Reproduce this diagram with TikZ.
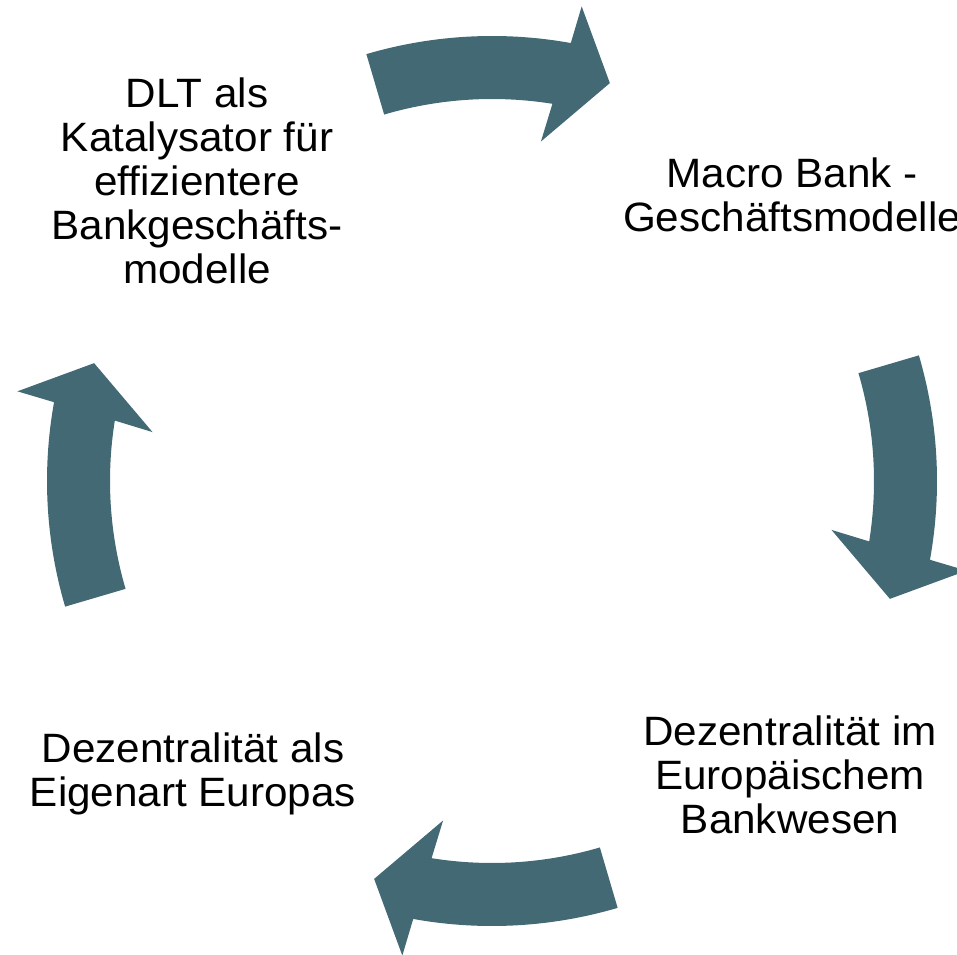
\documentclass[tikz,border=0pt]{standalone}
\usepackage{fontspec}
\setmainfont{Liberation Sans}[FakeStretch=1.03]
\definecolor{arrowteal}{RGB}{67,105,116}
\begin{document}
\begin{tikzpicture}[x=1pt,y=1pt,
  cyclearrow/.style={fill=arrowteal, draw=none},
  blocktext/.style={anchor=north, inner sep=0pt, align=center,
    font=\fontsize{41}{44}\selectfont, text=black}]
\useasboundingbox (0,0) rectangle (957,954);
\coordinate (hub) at (492,473);
% four curved arrows running clockwise around the hub
\foreach \r in {0,-90,-180,-270}{
  \begin{scope}[shift={(hub)}, rotate=\r]
    \fill[cyclearrow] (106.4:445pt)
      arc[start angle=106.4, end angle=79.8, radius=445pt]
      -- (79.3:483pt) -- (73.5:415pt) -- (81.8:343pt) -- (80.9:382pt)
      arc[start angle=80.9, end angle=106.4, radius=382pt] -- cycle;
  \end{scope}
}
% step labels
\node[blocktext] (dlt) at (197,877.5)
  {\strut DLT als\\Katalysator für\\effizientere\\Bankgeschäfts-\\modelle};
\node[blocktext] (macro) at (792,797.5)
  {\strut Macro Bank -\\Geschäftsmodelle};
\node[blocktext] (bankwesen) at (790,239.1)
  {\strut Dezentralität im\\Europäischem\\Bankwesen};
\node[blocktext] (europa) at (193,222.1)
  {\strut Dezentralität als\\Eigenart Europas};
\end{tikzpicture}
\end{document}
